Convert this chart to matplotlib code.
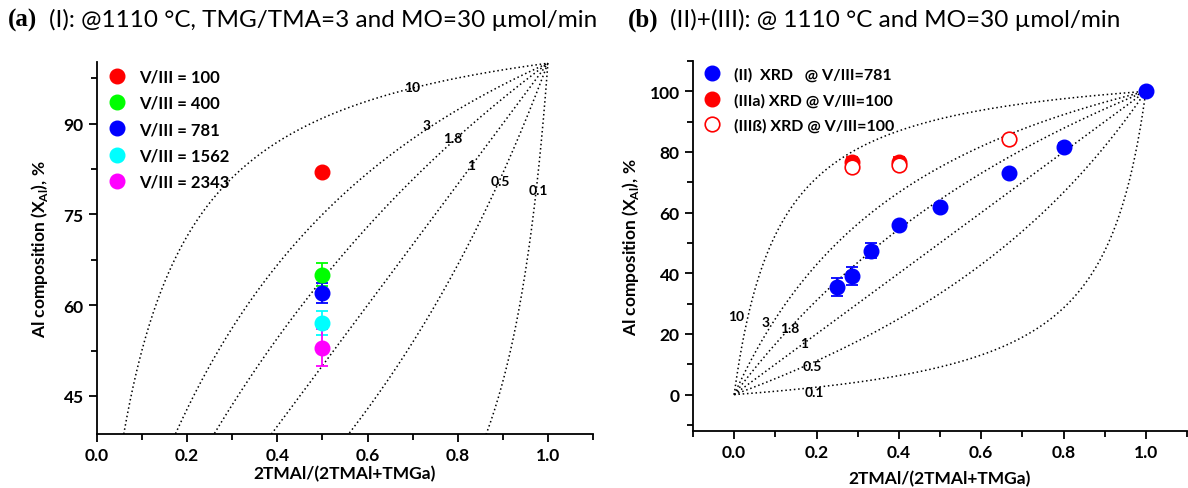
import numpy as np
import matplotlib
matplotlib.use("Agg")
import matplotlib.pyplot as plt
from matplotlib.ticker import MultipleLocator, FormatStrFormatter
from matplotlib.lines import Line2D

plt.rcParams["font.family"] = ["Lato", "DejaVu Sans"]
plt.rcParams["font.weight"] = "bold"
plt.rcParams["mathtext.fontset"] = "custom"
plt.rcParams["mathtext.rm"] = "Lato:bold"
plt.rcParams["mathtext.bf"] = "Lato:bold"

# Distribution-coefficient curves X_Al = k r / (1 + (k - 1) r)
k_values = [10, 3, 1.8, 1, 0.5, 0.1]
k_labels = ["10", "3", "1.8", "1", "0.5", "0.1"]

# Panel (a): single gas-phase ratio, varying V/III
a_labels = ["V/III = 100", "V/III = 400", "V/III = 781", "V/III = 1562", "V/III = 2343"]
a_colors = ["#ff0000", "#00ff00", "#0000ff", "#00ffff", "#ff00ff"]
a_x = [0.5, 0.5, 0.5, 0.5, 0.5]
a_y = [82.0, 65.0, 62.0, 57.0, 53.0]
a_err = [0.0, 1.9, 1.7, 2.0, 3.1]
a_lab_pos = [(0.70, 96.0), (0.73, 89.8), (0.79, 87.6), (0.83, 83.2), (0.895, 80.6), (0.978, 79.0)]

# Panel (b): XRD compositions
b_labels = ["(II)  XRD   @ V/III=781", "(IIIa) XRD @ V/III=100", "(IIIß) XRD @ V/III=100"]
b2_x = [0.25, 0.286, 0.333, 0.40, 0.50, 0.667, 0.80, 1.0]
b2_y = [35.5, 39.0, 47.5, 56.0, 62.0, 73.0, 81.8, 100.0]
b2_err = [3.0, 3.0, 2.5, 1.0, 1.0, 1.0, 1.0, 1.0]
b3a_x = [0.286, 0.40]
b3a_y = [76.8, 76.8]
b3a_err = [1.5, 1.5]
b3b_x = [0.286, 0.40, 0.667]
b3b_y = [75.2, 75.8, 84.3]
b_lab_pos = [(0.005, 26.0), (0.075, 24.0), (0.135, 22.0), (0.17, 17.0), (0.19, 9.5), (0.195, 0.8)]

W, H = 1188, 489
fig = plt.figure(figsize=(W / 100, H / 100), dpi=100)

ax1 = fig.add_axes([97 / W, 1 - 435 / H, 496 / W, (435 - 63) / H])
ax2 = fig.add_axes([693 / W, 1 - 432 / H, 494 / W, (432 - 62) / H])

r = np.linspace(0.0, 1.0, 600)
curve_style = dict(color="black", lw=1.1, ls=(0, (1, 1.8)), zorder=1)
for k in k_values:
    xal = 100 * k * r / (1 + (k - 1) * r)
    ax1.plot(r, xal, **curve_style)
    ax2.plot(r, xal, **curve_style)

lab_font = dict(fontsize=10, fontweight="bold", ha="center", va="center", zorder=2)
for t, (x, y) in zip(k_labels, a_lab_pos):
    ax1.text(x, y, t, **lab_font)
for t, (x, y) in zip(k_labels, b_lab_pos):
    ax2.text(x, y, t, **lab_font)

eb_style = dict(fmt="o", ms=10.5, elinewidth=1.3, capsize=4, capthick=1.3, zorder=3)

# Panel (a) points
for c, x, y, e in zip(a_colors, a_x, a_y, a_err):
    ax1.errorbar([x], [y], yerr=[e] if e > 0 else None, color=c, mec=c, **eb_style)

# Panel (b) points
ax2.errorbar(b2_x, b2_y, yerr=b2_err, color="#0000ff", mec="#0000ff", **eb_style)
ax2.errorbar(b3a_x, b3a_y, yerr=b3a_err, color="#ff0000", mec="#ff0000", **eb_style)
ax2.plot(b3b_x, b3b_y, "o", mfc="white", mec="#ff0000", ms=10.5, mew=1.2, zorder=4)

# Axes formatting
ax1.set_xlim(0, 1.1)
ax1.set_ylim(38.7, 100.2)
ax1.yaxis.set_major_locator(MultipleLocator(15))
ax1.yaxis.set_minor_locator(MultipleLocator(7.5))

ax2.set_xlim(-0.1, 1.1)
ax2.set_ylim(-12, 110)
ax2.yaxis.set_major_locator(MultipleLocator(20))
ax2.yaxis.set_minor_locator(MultipleLocator(10))

for ax in (ax1, ax2):
    for s in ("top", "right"):
        ax.spines[s].set_visible(False)
    for s in ("left", "bottom"):
        ax.spines[s].set_linewidth(1.3)
    ax.set_xticks([0.0, 0.2, 0.4, 0.6, 0.8, 1.0])
    ax.xaxis.set_minor_locator(MultipleLocator(0.1))
    ax.xaxis.set_major_formatter(FormatStrFormatter("%.1f"))
    ax.tick_params(which="major", direction="out", length=6, width=1.3, labelsize=12.5)
    ax.tick_params(which="minor", direction="out", length=4, width=1.3)
    for lab in ax.get_xticklabels() + ax.get_yticklabels():
        lab.set_fontweight("bold")
    ax.set_ylabel(r"Al composition (X$_{\mathrm{Al}}$), %", fontsize=12.5, fontweight="bold")

ax1.set_xlabel("2TMAl/(2TMAl+TMGa)", fontsize=12.5, fontweight="bold", labelpad=1)
ax2.set_xlabel("2TMAl/(2TMAl+TMGa)", fontsize=12.5, fontweight="bold", labelpad=7)
ax1.yaxis.labelpad = 10
ax2.yaxis.labelpad = 6

# Legends with plain markers
h1 = [Line2D([], [], ls="none", marker="o", ms=10.5, color=c, mec=c) for c in a_colors]
ax1.legend(h1, a_labels, loc="upper left", bbox_to_anchor=(0.0, 1.0), frameon=False,
           prop=dict(size=12, weight="bold"), handletextpad=0.55,
           labelspacing=0.62, borderaxespad=0.0, handlelength=1.6)
h2 = [Line2D([], [], ls="none", marker="o", ms=10.5, color="#0000ff", mec="#0000ff"),
      Line2D([], [], ls="none", marker="o", ms=10.5, color="#ff0000", mec="#ff0000"),
      Line2D([], [], ls="none", marker="o", ms=10.5, mfc="white", mec="#ff0000", mew=1.2)]
ax2.legend(h2, b_labels, loc="upper left", bbox_to_anchor=(0.0, 1.0), frameon=False,
           prop=dict(size=11.5, weight="bold"), handletextpad=0.55,
           labelspacing=0.68, borderaxespad=0.0, handlelength=1.6)

# Panel titles
ty = 1 - 20 / H
fig.text(8 / W, ty, "(a)", family="Liberation Serif", fontweight="bold", fontsize=18, va="center")
fig.text(49 / W, ty, "(I): @1110 °C, TMG/TMA=3 and MO=30 µmol/min", fontweight="normal",
         fontsize=17.5, va="center")
fig.text(628 / W, ty, "(b)", family="Liberation Serif", fontweight="bold", fontsize=18, va="center")
fig.text(670 / W, ty, "(II)+(III): @ 1110 °C and MO=30 µmol/min", fontweight="normal",
         fontsize=17.5, va="center")

fig.savefig("out.png", dpi=100)
